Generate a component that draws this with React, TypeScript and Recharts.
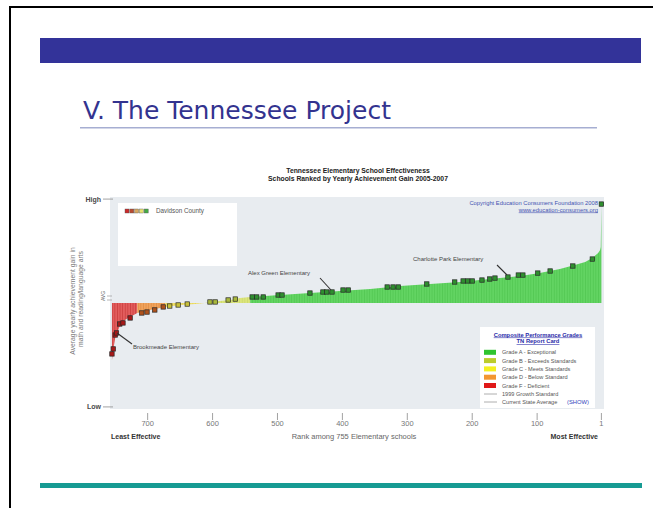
import React from 'react';
import { ComposedChart, Area, Scatter, XAxis, YAxis, CartesianGrid } from 'recharts';

// ---- data ----
// envelope of the school bars (rank among 755 schools, gain relative to standard; High = +100, Low = -100)
const curveRanks = [755, 753, 750, 743, 735, 727, 716, 704, 689, 673, 650, 627, 612, 604, 589, 573, 558, 542, 496, 450, 404, 357, 311, 265, 219, 173, 126, 96, 65, 42, 26, 15, 6, 3, 2, 1];
const curveGains = [-55, -45, -33.7, -22.1, -16.3, -13.5, -9.6, -7.7, -5.8, -3.8, -1.9, -1.0, 0, 1.0, 1.9, 2.9, 4.8, 5.8, 7.7, 9.6, 11.5, 13.5, 16.3, 18.3, 20.2, 23.1, 26.0, 28.8, 32.7, 36.5, 39.4, 43.3, 48.1, 51, 54, 95];

// Davidson County schools (markers)
const markerRanks = [755, 753, 750, 748, 743, 738, 727, 709, 701, 689, 676, 666, 653, 639, 604, 596, 576, 565, 539, 532, 522, 499, 493, 450, 430, 424, 416, 399, 391, 331, 322, 314, 270, 227, 214, 207, 200, 185, 173, 165, 145, 129, 122, 99, 80, 45, 15, 1];
const markerGains = [-49, -44.2, -30.8, -28.8, -20.2, -19.2, -14.4, -9.6, -8.7, -6.7, -3.8, -2.9, -1.9, -1.0, 1.0, 1.0, 2.9, 3.8, 5.8, 5.8, 5.8, 7.7, 7.7, 9.6, 10.6, 10.6, 10.6, 12.5, 12.5, 15.4, 15.4, 15.4, 18.3, 20.2, 21.2, 21.2, 21.2, 22.1, 23.1, 24.0, 25.0, 26.9, 26.9, 28.8, 30.8, 35.6, 42.3, 95.2];

// grade bands by rank: F >= 716, D 673-716, C 612-673, B 542-612, A <= 542
const gradeKeys = ['F', 'D', 'C', 'B', 'A'];
const gradeRankHigh = [755, 716, 673, 612, 542];
const gradeRankLow = [716, 673, 612, 542, 1];

const rankTicks = [700, 600, 500, 400, 300, 200, 100, 1];
const levelTicks = [100, -100];

const legendLabels = ['Grade A - Exceptional', 'Grade B - Exceeds Standards', 'Grade C - Meets Standards', 'Grade D - Below Standard', 'Grade F - Deficient'];
const legendLineLabels = ['1999 Growth Standard', 'Current State Average'];

// ---- styles ----
const areaFill: Record<string, string> = { F: '#e25d5d', D: '#f0a35c', C: '#f0e06a', B: '#dce57c', A: '#62d462' };
const stripeFill: Record<string, string> = { F: '#c83a3a', D: '#e08a40', C: '#e2cf52', B: '#cad86a', A: '#50c650' };
const markerFill: Record<string, string> = { F: '#a81818', D: '#b0521c', C: '#c8c03a', B: '#a9b83c', A: '#2f8f2f' };
const legendSwatch = ['#2ec42e', '#bccc2c', '#f4f020', '#f39630', '#e01818'];
const FONT = '"Liberation Sans", Arial, sans-serif';

const gradesAt = (rank: number) =>
  gradeKeys.filter((_, i) => rank <= gradeRankHigh[i] && rank >= gradeRankLow[i]);
const gradeOf = (rank: number) => gradesAt(rank)[0];

const curveRows = curveRanks.map((rank, i) => {
  const row: Record<string, number> = { rank };
  gradesAt(rank).forEach((g) => {
    row[g] = curveGains[i];
  });
  return row;
});

const markerRows = markerRanks.map((rank, i) => ({ rank, v: markerGains[i], grade: gradeOf(rank) }));

const MarkerShape = (props: any) => {
  const { cx, cy, payload } = props;
  if (cx == null || cy == null) return null;
  return (
    <rect x={cx - 2.2} y={cy - 2.2} width={4.4} height={4.4} fill={markerFill[payload.grade]} stroke="#262626" strokeWidth={0.7} />
  );
};

const RankTick = (props: any) => {
  const { x, y, payload } = props;
  return (
    <g>
      <line x1={x} x2={x} y1={y + 4} y2={y + 11} stroke="#8a8a8a" strokeWidth={0.8} />
      <text x={x} y={y + 16.5} textAnchor="middle" fontSize={7.5} fill="#777" fontFamily={FONT}>
        {payload.value}
      </text>
    </g>
  );
};

const LevelTick = (props: any) => {
  const { x, y, payload } = props;
  return (
    <g>
      <line x1={x - 7} x2={x + 3} y1={y} y2={y} stroke="#8a8a8a" strokeWidth={0.8} />
      <text x={x - 9} y={y + 2.5} textAnchor="end" fontSize={7} fontWeight="bold" fill="#4a4a4a" fontFamily={FONT}>
        {payload.value > 0 ? 'High' : 'Low'}
      </text>
    </g>
  );
};

export default function App() {
  return (
    <div style={{ position: 'absolute', left: 0, top: 0, width: 653, height: 508, background: '#fff', overflow: 'hidden' }}>
      <div style={{ position: 'absolute', left: 0, top: 0 }}>
        <ComposedChart width={653} height={508} data={curveRows} margin={{ top: 197, right: 49, bottom: 69, left: 70 }}>
          <defs>
            {gradeKeys.map((g) => (
              <pattern key={g} id={`stripe-${g}`} patternUnits="userSpaceOnUse" width={2.6} height={8}>
                <rect width={2.6} height={8} fill={areaFill[g]} />
                <rect width={0.7} height={8} fill={stripeFill[g]} />
              </pattern>
            ))}
          </defs>
          <CartesianGrid horizontal={false} vertical={false} fill="#e8ecf0" stroke="none" />
          <XAxis
            dataKey="rank"
            type="number"
            domain={[-3, 758]}
            reversed
            ticks={rankTicks}
            interval={0}
            axisLine={false}
            tickLine={false}
            tickSize={0}
            tickMargin={0}
            height={30}
            tick={<RankTick />}
          />
          <YAxis
            type="number"
            domain={[-102, 102]}
            ticks={levelTicks}
            interval={0}
            axisLine={false}
            tickLine={false}
            tickSize={0}
            tickMargin={0}
            width={40}
            tick={<LevelTick />}
          />
          {gradeKeys.map((g) => (
            <Area
              key={g}
              dataKey={g}
              type="linear"
              baseValue={0}
              stroke="none"
              fill={`url(#stripe-${g})`}
              fillOpacity={1}
              isAnimationActive={false}
              connectNulls={false}
              dot={false}
              activeDot={false}
            />
          ))}
          <Scatter data={markerRows} dataKey="v" shape={<MarkerShape />} isAnimationActive={false} />
        </ComposedChart>
      </div>
      <svg width={653} height={508} style={{ position: 'absolute', left: 0, top: 0, pointerEvents: 'none' }}>
        {/* slide frame */}
        <rect x={10} y={7} width={660} height={520} fill="none" stroke="#000" strokeWidth={2} />
        <rect x={40} y={38} width={601} height={25} fill="#333399" />
        <text x={83} y={119} fontFamily='"DejaVu Sans", Verdana, sans-serif' fontSize={25} fill="#33338f">
          V. The Tennessee Project
        </text>
        <rect x={80} y={127} width={517} height={1.5} fill="#a6aed2" />
        <rect x={40} y={483} width={602} height={5} fill="#169b93" />

        {/* chart title */}
        <text x={358} y={173} textAnchor="middle" fontFamily={FONT} fontSize={6.8} fontWeight="bold" fill="#222">
          Tennessee Elementary School Effectiveness
        </text>
        <text x={358} y={181} textAnchor="middle" fontFamily={FONT} fontSize={6.8} fontWeight="bold" fill="#222">
          Schools Ranked by Yearly Achievement Gain 2005-2007
        </text>

        {/* y axis title */}
        <text transform="translate(75,301) rotate(-90)" textAnchor="middle" fontFamily={FONT} fontSize={6.8} fill="#7a7a7a">
          Average yearly achievement gain in
        </text>
        <text transform="translate(83,299) rotate(-90)" textAnchor="middle" fontFamily={FONT} fontSize={6.8} fill="#7a7a7a">
          math and reading/language arts
        </text>
        <text transform="translate(105,296) rotate(-90)" textAnchor="middle" fontFamily={FONT} fontSize={5} fill="#666">
          AVG
        </text>
        <line x1={107} x2={112} y1={296} y2={296} stroke="#999" strokeWidth={0.7} />
        <line x1={107} x2={112} y1={300} y2={300} stroke="#999" strokeWidth={0.7} />

        {/* copyright */}
        <text x={598} y={205} textAnchor="end" fontFamily={FONT} fontSize={5.8} fill="#4453b0">
          Copyright Education Consumers Foundation 2008
        </text>
        <text x={598} y={211.5} textAnchor="end" fontFamily={FONT} fontSize={5.8} fill="#4453b0" textDecoration="underline">
          www.education-consumers.org
        </text>

        {/* Davidson County legend */}
        <rect x={118} y={203} width={119} height={63} fill="#fff" />
        {['#cc2a2a', '#b84a30', '#d8a860', '#e6e070', '#44aa44'].map((c, i) => (
          <rect key={c} x={125 + i * 4.8} y={209} width={4} height={4} fill={c} stroke="#555" strokeWidth={0.4} />
        ))}
        <text x={156} y={213} fontFamily={FONT} fontSize={6.3} fill="#555">
          Davidson County
        </text>

        {/* annotations */}
        <text x={248} y={275} fontFamily={FONT} fontSize={6} fill="#444">
          Alex Green Elementary
        </text>
        <line x1={320} y1={278} x2={331} y2={290} stroke="#333" strokeWidth={1.1} />
        <text x={413} y={261} fontFamily={FONT} fontSize={6} fill="#444">
          Charlotte Park Elementary
        </text>
        <line x1={497} y1={265} x2={507} y2={275} stroke="#333" strokeWidth={1.1} />
        <text x={133} y={349} fontFamily={FONT} fontSize={6} fill="#444">
          Brookmeade Elementary
        </text>
        <line x1={117} y1={333} x2={132} y2={344} stroke="#333" strokeWidth={1.1} />

        {/* grade legend */}
        <rect x={480} y={327} width={115} height={81} fill="#fff" />
        <text x={538} y={336.5} textAnchor="middle" fontFamily={FONT} fontSize={5.8} fontWeight="bold" fill="#2a2aa8" textDecoration="underline">
          Composite Performance Grades
        </text>
        <text x={538} y={343} textAnchor="middle" fontFamily={FONT} fontSize={5.8} fontWeight="bold" fill="#2a2aa8" textDecoration="underline">
          TN Report Card
        </text>
        {legendLabels.map((label, i) => (
          <g key={label}>
            <rect x={484} y={349.8 + i * 8.3} width={12} height={5} fill={legendSwatch[i]} />
            <text x={502} y={354.3 + i * 8.3} fontFamily={FONT} fontSize={5.6} fill="#555">
              {label}
            </text>
          </g>
        ))}
        {legendLineLabels.map((label, i) => (
          <g key={label}>
            <line x1={484} x2={497} y1={394 + i * 8} y2={394 + i * 8} stroke="#999" strokeWidth={0.8} />
            <text x={502} y={396 + i * 8} fontFamily={FONT} fontSize={5.6} fill="#555">
              {label}
            </text>
          </g>
        ))}
        <text x={567} y={404} fontFamily={FONT} fontSize={5.8} fill="#3344bb">
          (SHOW)
        </text>

        {/* x axis captions */}
        <text x={111} y={439} fontFamily={FONT} fontSize={7} fontWeight="bold" fill="#333">
          Least Effective
        </text>
        <text x={354} y={439} textAnchor="middle" fontFamily={FONT} fontSize={7.5} fill="#666">
          Rank among 755 Elementary schools
        </text>
        <text x={598} y={439} textAnchor="end" fontFamily={FONT} fontSize={7} fontWeight="bold" fill="#333">
          Most Effective
        </text>
      </svg>
    </div>
  );
}
